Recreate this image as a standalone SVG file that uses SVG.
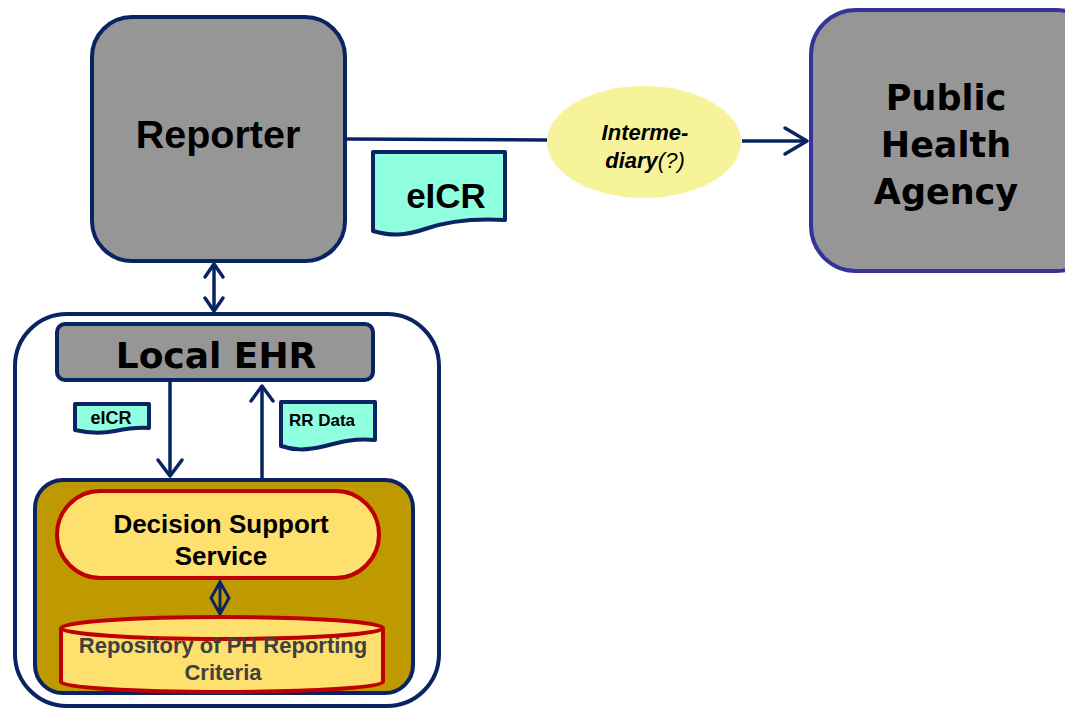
<svg xmlns="http://www.w3.org/2000/svg" width="1065" height="708" viewBox="0 0 1065 708">
<style>
.box{fill:#969696;stroke:#0a2463;stroke-width:4}
.doc{fill:#8fffe0;stroke:#0a2463;stroke-width:4;stroke-linejoin:round}
.ln{fill:none;stroke:#0a2463;stroke-width:3.5}
.ar{fill:none;stroke:#0a2463;stroke-width:3.5;stroke-linecap:round;stroke-linejoin:round}
.arial{font-family:"Liberation Sans",Arial,sans-serif;font-weight:bold;text-anchor:middle}
.verd{font-family:"DejaVu Sans",Verdana,sans-serif;font-weight:bold;text-anchor:middle}
.red{fill:#fde06e;stroke:#c00000;stroke-width:4}
</style>
<rect width="1065" height="708" fill="#ffffff"/>
<g id="local-container">
  <rect x="15" y="314" width="424" height="392" rx="52" fill="#ffffff" stroke="#0a2463" stroke-width="4"/>
</g>
<g id="dss-container">
  <rect x="35" y="480" width="378" height="213" rx="28" fill="#bf9900" stroke="#0a2463" stroke-width="4"/>
</g>
<g id="connectors">
  <path class="ln" d="M345,139 L547,140"/>
  <path class="ln" d="M742,141 L807,141"/>
  <path class="ar" d="M785,128 L807,141 L785,154"/>
  <path class="ln" d="M214,264 L214,311"/>
  <path class="ar" d="M205,277 L214,264 L223,277"/>
  <path class="ar" d="M205,298 L214,311 L223,298"/>
  <path class="ln" d="M170,381 L170,476"/>
  <path class="ar" d="M158,460 L170,476 L182,460"/>
  <path class="ln" d="M262,478 L262,386"/>
  <path class="ar" d="M251,401 L262,386 L273,401"/>
</g>
<g id="reporter">
  <rect class="box" x="92" y="17" width="253" height="244" rx="40"/>
  <text class="arial" x="218" y="148" font-size="39.5">Reporter</text>
</g>
<g id="eicr-doc">
  <path class="doc" d="M373,152 L505,152 L505,220 C470,218 445,222 425,229 C405,236 390,236 373,231 Z"/>
  <text class="arial" x="446" y="208" font-size="35">eICR</text>
</g>
<g id="intermediary">
  <ellipse cx="644" cy="142" rx="97" ry="56" fill="#f7f39b"/>
  <text x="645" y="140" font-family="Liberation Sans,Arial,sans-serif" font-size="22" font-weight="bold" font-style="italic" text-anchor="middle">Interme-</text>
  <text x="645" y="168" font-family="Liberation Sans,Arial,sans-serif" font-size="22" font-style="italic" text-anchor="middle"><tspan font-weight="bold">diary</tspan>(?)</text>
</g>
<g id="public-health-agency">
  <rect x="811" y="10" width="290" height="261" rx="45" fill="#969696" stroke="#333399" stroke-width="4"/>
  <text class="verd" x="946" y="110" font-size="35">Public</text>
  <text class="verd" x="946" y="157" font-size="35">Health</text>
  <text class="verd" x="946" y="204" font-size="35">Agency</text>
</g>
<g id="local-ehr">
  <rect class="box" x="57" y="324" width="316" height="56" rx="8"/>
  <text class="verd" x="216" y="368" font-size="36">Local EHR</text>
</g>
<g id="eicr-small">
  <path class="doc" d="M75,404 L149,404 L149,428 C135,427 125,429 115,431 C100,434 88,433 75,430 Z" stroke-width="3"/>
  <text class="arial" x="111" y="424" font-size="18">eICR</text>
</g>
<g id="rr-data">
  <path class="doc" d="M281,402 L375,402 L375,440 C355,438 340,442 325,446 C305,451 293,450 281,446 Z" stroke-width="3"/>
  <text class="arial" x="322" y="426" font-size="17">RR Data</text>
</g>
<g id="decision-support-service">
  <rect class="red" x="57" y="491" width="322" height="87" rx="43.5"/>
  <text class="arial" x="221" y="533" font-size="26">Decision Support</text>
  <text class="arial" x="221" y="565" font-size="26">Service</text>
</g>
<g id="dss-repo-link">
  <path d="M220,582 L229,598 L220,614 L211,598 Z M220,584 L220,612" fill="none" stroke="#0a2463" stroke-width="3"/>
</g>
<g id="repository">
  <path class="red" d="M61,628 L61,682 A161,10 0 0 0 383,682 L383,628"/>
  <ellipse class="red" cx="222" cy="628" rx="161" ry="11"/>
  <text class="arial" x="223" y="653" font-size="22" fill="#404040">Repository of PH Reporting</text>
  <text class="arial" x="223" y="680" font-size="22" fill="#404040">Criteria</text>
</g>
</svg>
